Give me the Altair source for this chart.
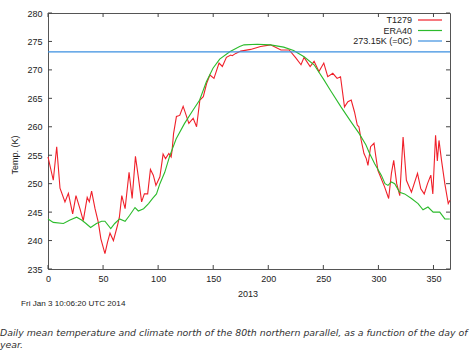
import altair as alt
import pandas as pd

# T1279 daily mean (red)
red_day = [0, 4.8, 7.9, 10.9, 15.4, 18.5, 22.4, 25.4, 29, 32, 35.6, 37.5, 39.6, 42.7, 45.7, 48, 51.7, 54, 56.3, 59.4,
           63, 64.8, 67, 70, 73.6, 76.4, 79.4, 82, 85, 87.5, 90.5, 93, 95.6, 98, 101.6, 104.5, 106.7, 109.7, 111.8,
           112.7, 114, 116.6, 119.6, 122.7, 124.8, 127.9, 131.8, 134.9, 137.9, 141, 144, 147, 150.7, 155.3, 158.3,
           162, 165.9, 167.3, 170.5, 175, 184, 193, 202, 211.5, 219, 225, 229.7, 232.5, 238, 241.6, 246, 250.4, 254,
           258.6, 262.5, 265.6, 269.2, 272.3, 275.3, 278.3, 280.8, 282.3, 284.4, 286.9, 289, 290.5, 292.9, 296, 297.5,
           299.6, 305.7, 309.3, 311.8, 313.9, 316.6, 319.4, 322.4, 325.4, 330, 335.5, 338.5, 341.6, 344.6, 347.6,
           349.4, 351.9, 353.5, 355, 357.3, 360.3, 363.4, 365]
red_temp = [254.7, 250.6, 256.5, 249.2, 246.8, 248.3, 244.7, 247.9, 245.6, 243.5, 247.6, 246.8, 248.7, 245.6, 243.2,
            240.3, 237.7, 239.7, 241.3, 240.0, 242.6, 244.1, 247.9, 245.6, 252.0, 247.4, 254.8, 251.2, 246.8, 248.2,
            248.2, 252.5, 251.5, 249.7, 251.2, 255.2, 254.4, 255.3, 254.7, 255.9, 258.8, 261.8, 262.0, 263.6, 262.4,
            260.6, 261.5, 260.0, 264.7, 265.3, 267.6, 269.1, 268.5, 271.2, 270.6, 272.2, 272.6, 272.5, 272.9, 273.3,
            273.6, 274.1, 274.4, 273.5, 273.5, 272.1, 270.9, 272.2, 270.6, 271.5, 269.7, 271.2, 268.8, 269.4, 268.5,
            268.8, 263.5, 264.4, 264.7, 262.6, 260.3, 260.0, 257.6, 255.3, 254.4, 253.2, 256.5, 257.1, 255.0, 252.3,
            249.4, 247.4, 251.8, 254.1, 250.0, 247.9, 258.2, 250.6, 248.5, 251.8, 249.1, 248.2, 250.0, 251.5, 248.2,
            258.5, 254.0, 257.6, 254.1, 250.0, 246.5, 247.1]

# ERA40 climate (green)
grn_day = [0, 4.8, 14, 20, 26, 30.5, 34.5, 38.7, 44, 48.7, 51.7, 57, 60.6, 65, 70, 74, 79, 82, 86.8, 91.3, 95, 98.5,
           101.6, 106, 110.4, 116.4, 124, 131.6, 137.7, 143.8, 149.8, 155.9, 165, 174, 178, 190, 202, 214, 223,
           232.5, 241.6, 250.7, 256.8, 266, 275, 282.6, 288.7, 292, 296.6, 302.6, 306, 308.7, 311.8, 314.8, 319.3,
           323.8, 330, 336, 340.5, 345, 349.7, 355.7, 360.3, 364.8]
grn_temp = [243.8, 243.2, 243.0, 243.6, 244.1, 243.6, 243.0, 242.3, 243.0, 243.4, 243.4, 242.1, 243.0, 243.8, 243.4,
            244.4, 245.8, 245.2, 245.6, 246.5, 247.4, 248.2, 250.0, 252.0, 254.8, 257.9, 260.6, 262.9, 264.7, 267.9,
            270.3, 271.9, 273.2, 274.1, 274.4, 274.5, 274.4, 274.0, 273.4, 272.3, 270.9, 268.2, 266.3, 263.5, 260.9,
            258.8, 256.8, 255.3, 253.5, 251.5, 250.0, 249.7, 250.3, 250.0, 248.5, 248.2, 247.4, 246.5, 245.4, 245.9,
            245.0, 245.0, 243.8, 243.8]

freeze = 273.15
y_ticks = [235, 240, 245, 250, 255, 260, 265, 270, 275, 280]
x_ticks = [0, 50, 100, 150, 200, 250, 300, 350]
legend_labels = ["T1279", "ERA40", "273.15K (=0C)"]

RED, GREEN, BLUE = "#f0202a", "#2cbb2c", "#3b8fe0"
LEG_COLORS = [RED, GREEN, BLUE]
LEG_Y = [7, 17.5, 28]
W, H = 402, 256
xs = alt.Scale(domain=[0, 365], nice=False, zero=False)
ys = alt.Scale(domain=[235, 280], nice=False, zero=False)

red_df = pd.DataFrame({"day": red_day, "t": red_temp})
grn_df = pd.DataFrame({"day": grn_day, "t": grn_temp})

AX = alt.Axis(values=x_ticks, ticks=False, domain=False, grid=False, labelFont="Liberation Sans",
              labelFontSize=9, labelColor="#222", labelPadding=5, title=None,
              labelOverlap=False, labelFlush=False)
AY = alt.Axis(values=y_ticks, ticks=False, domain=False, grid=False, labelFont="Liberation Sans",
              labelFontSize=9, labelColor="#222", labelPadding=6, title=None,
              labelOverlap=False, labelFlush=False)

red = alt.Chart(red_df).mark_line(color=RED, strokeWidth=1.1).encode(
    x=alt.X("day:Q", scale=xs, axis=AX),
    y=alt.Y("t:Q", scale=ys, axis=AY))
grn = alt.Chart(grn_df).mark_line(color=GREEN, strokeWidth=1.1).encode(
    x=alt.X("day:Q", scale=xs, axis=AX), y=alt.Y("t:Q", scale=ys, axis=AY))
blue = alt.Chart(pd.DataFrame({"t": [freeze]})).mark_rule(color=BLUE, strokeWidth=1.2).encode(
    y=alt.Y("t:Q", scale=ys, axis=AY), x=alt.value(0), x2=alt.value(W))

yt = pd.DataFrame({"v": y_ticks})
xt = pd.DataFrame({"v": x_ticks})
tick_col = "#444"
tl = alt.Chart(yt).mark_rule(color=tick_col).encode(y=alt.Y("v:Q", scale=ys, axis=AY), x=alt.value(0), x2=alt.value(4))
tr = alt.Chart(yt).mark_rule(color=tick_col).encode(y=alt.Y("v:Q", scale=ys, axis=AY), x=alt.value(W - 4),
                                                    x2=alt.value(W))
tb = alt.Chart(xt).mark_rule(color=tick_col).encode(x=alt.X("v:Q", scale=xs, axis=AX), y=alt.value(H - 4),
                                                    y2=alt.value(H))
ttop = alt.Chart(xt).mark_rule(color=tick_col).encode(x=alt.X("v:Q", scale=xs, axis=AX), y=alt.value(0),
                                                      y2=alt.value(4))

def txt(s, x, y, **kw):
    return alt.Chart(pd.DataFrame({"s": [s]})).mark_text(**kw).encode(text="s:N", x=alt.value(x), y=alt.value(y))

legend_layers = []
for lab, col, ly in zip(legend_labels, LEG_COLORS, LEG_Y):
    legend_layers.append(txt(lab, 364, ly, align="right", baseline="middle", font="Liberation Sans",
                             fontSize=9, color="#222"))
    legend_layers.append(alt.Chart(pd.DataFrame({"c": [col]})).mark_rule(color=col, strokeWidth=1.2).encode(
        x=alt.value(370), x2=alt.value(394), y=alt.value(ly)))

ytitle = txt("Temp. (K)", -33, 142, angle=270, font="Liberation Sans", fontSize=9, color="#222",
             align="center", baseline="middle")
xtitle = txt("2013", 200, 281, font="Liberation Sans", fontSize=9, color="#222", align="center", baseline="middle")
stamp = txt("Fri Jan 3 10:06:20 UTC 2014", -27, 291, font="Liberation Sans", fontSize=8.1, color="#222",
            align="left", baseline="middle")
cap1 = txt("Daily mean temperature and climate north of the 80th northern parallel, as a function of the day of",
           -48, 320, font="DejaVu Sans", fontSize=9.4, fontStyle="italic", color="#333", align="left",
           baseline="middle")
cap2 = txt("year.", -48, 332, font="DejaVu Sans", fontSize=9.4, fontStyle="italic", color="#333", align="left",
           baseline="middle")

chart = alt.layer(red, grn, blue, tl, tr, tb, ttop, *legend_layers, ytitle, xtitle, stamp, cap1, cap2).properties(
    width=W, height=H,
    autosize=alt.AutoSizeParams(type="none"),
    padding={"left": 48, "top": 13, "right": 24, "bottom": 84},
    background="white",
).configure_view(stroke="#555", strokeWidth=1).configure_axis(labelOverlap=False)

chart.save("out.html", embed_options={"renderer": "svg", "actions": False})
